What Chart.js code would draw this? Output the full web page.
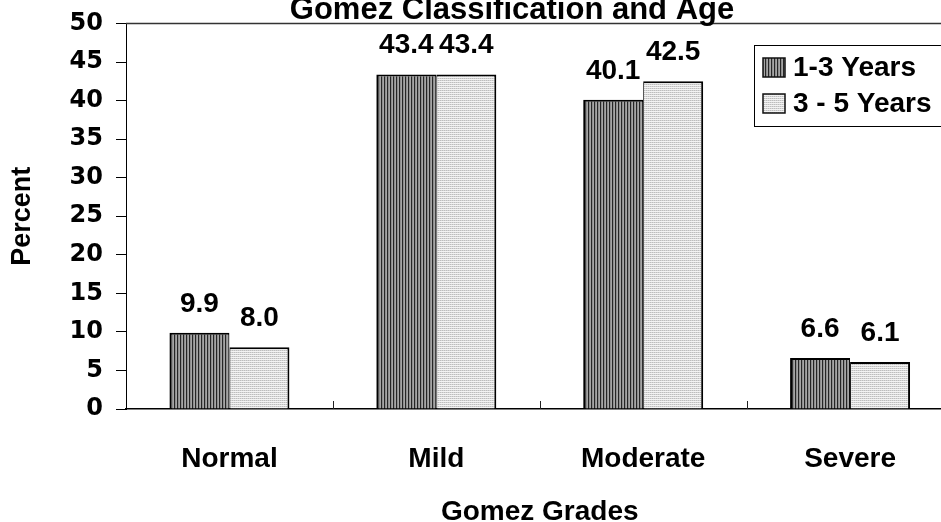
<!DOCTYPE html>
<html><head><meta charset="utf-8">
<script src="https://cdn.jsdelivr.net/npm/chart.js@4.4.0/dist/chart.umd.min.js"></script>
<style>
html,body{margin:0;padding:0;background:#fff;overflow:hidden;width:941px;height:522px;}
#wrap{position:relative;width:1000px;height:540px;}
</style></head><body>
<div id="wrap"><canvas id="c"></canvas></div>
<script>
const categories = ['Normal', 'Mild', 'Moderate', 'Severe'];
const seriesNames = ['1-3 Years', '3 - 5 Years'];
const values1to3 = [9.9, 43.4, 40.1, 6.6];
const values3to5 = [8.0, 43.4, 42.5, 6.1];
const yTickValues = [0, 5, 10, 15, 20, 25, 30, 35, 40, 45, 50];
const chartTitle = 'Gomez Classification and Age';
const xTitle = 'Gomez Grades';
const yTitle = 'Percent';

const FONT = "'Liberation Sans', Arial, sans-serif";
const canvas = document.getElementById('c');
const ctx0 = canvas.getContext('2d');

function tilePattern(w, h, fill) {
  const t = document.createElement('canvas');
  t.width = w; t.height = h;
  const g = t.getContext('2d');
  fill(g);
  return ctx0.createPattern(t, 'repeat');
}
const darkPattern = tilePattern(3, 1, g => {
  g.fillStyle = '#262626'; g.fillRect(0, 0, 1, 1);
  g.fillStyle = '#8e8e8e'; g.fillRect(1, 0, 1, 1);
  g.fillStyle = '#a6a6a6'; g.fillRect(2, 0, 1, 1);
});
const lightPattern = tilePattern(2, 2, g => {
  g.fillStyle = '#f3f3f3'; g.fillRect(0, 0, 2, 2);
  g.fillStyle = '#bdbdbd'; g.fillRect(0, 0, 1, 1);
  g.fillStyle = '#d6d6d6'; g.fillRect(1, 0, 1, 1);
});

const extras = {
  id: 'extras',
  afterDraw(chart) {
    const ctx = chart.ctx;
    const a = chart.chartArea;
    const xs = chart.scales.x;
    ctx.save();
    // top border of plot
    ctx.strokeStyle = '#333';
    ctx.lineWidth = 1.5;
    ctx.beginPath();
    ctx.moveTo(a.left, a.top); ctx.lineTo(a.right, a.top);
    ctx.stroke();
    // inward category ticks
    ctx.strokeStyle = '#222';
    ctx.lineWidth = 1;
    for (let i = 1; i < categories.length; i++) {
      const xb = Math.round((xs.getPixelForValue(i - 1) + xs.getPixelForValue(i)) / 2) + 0.5;
      ctx.beginPath();
      ctx.moveTo(xb, a.bottom - 8); ctx.lineTo(xb, a.bottom);
      ctx.stroke();
    }
    // value labels
    ctx.fillStyle = '#000';
    ctx.font = 'bold 28px ' + FONT;
    ctx.textAlign = 'center';
    ctx.textBaseline = 'alphabetic';
    chart.data.datasets.forEach((ds, di) => {
      chart.getDatasetMeta(di).data.forEach((el, i) => {
        ctx.fillText(ds.data[i].toFixed(1), el.x, el.y - 21);
      });
    });
    // title
    ctx.font = 'bold 31px ' + FONT;
    ctx.fillText(chartTitle, 512, 19);
    // legend
    ctx.strokeStyle = '#000';
    ctx.lineWidth = 1;
    ctx.fillStyle = '#fff';
    ctx.fillRect(754.5, 45.5, 400, 81);
    ctx.strokeRect(754.5, 45.5, 400, 81);
    chart.data.datasets.forEach((ds, di) => {
      const cy = 67.5 + di * 36;
      ctx.fillStyle = ds.backgroundColor;
      ctx.fillRect(763, cy - 9.5, 22, 19);
      ctx.lineWidth = 1.5;
      ctx.strokeStyle = '#111';
      ctx.strokeRect(763, cy - 9.5, 22, 19);
      ctx.fillStyle = '#000';
      ctx.font = 'bold 28px ' + FONT;
      ctx.textAlign = 'left';
      ctx.textBaseline = 'middle';
      ctx.fillText(ds.label, 793, cy + 1);
    });
    ctx.restore();
  }
};

new Chart(canvas, {
  type: 'bar',
  data: {
    labels: categories,
    datasets: [
      { label: seriesNames[0], data: values1to3, backgroundColor: darkPattern, borderColor: '#000',
        borderWidth: { left: 2, right: 1, top: 2, bottom: 0 }, borderSkipped: false,
        barPercentage: 1, categoryPercentage: 0.58 },
      { label: seriesNames[1], data: values3to5, backgroundColor: lightPattern, borderColor: '#000',
        borderWidth: { left: 1, right: 2, top: 2, bottom: 0 }, borderSkipped: false,
        barPercentage: 1, categoryPercentage: 0.58 }
    ]
  },
  options: {
    responsive: true,
    maintainAspectRatio: false,
    animation: false,
    events: [],
    layout: { padding: { left: 2, right: 46.5, top: 23.5, bottom: 0 } },
    plugins: { legend: { display: false }, title: { display: false }, tooltip: { enabled: false } },
    scales: {
      x: {
        afterFit: s => { s.height = 131; s.paddingLeft = 0; s.paddingRight = 0; },
        grid: { display: false, drawTicks: false },
        border: { display: true, color: '#000', width: 1.5 },
        ticks: { color: '#000', font: { family: FONT, weight: 'bold', size: 28 }, padding: 33 },
        title: { display: true, text: xTitle, color: '#000', font: { family: FONT, weight: 'bold', size: 28 },
                 padding: { top: 25, bottom: 11 } }
      },
      y: {
        min: 0, max: 50,
        afterBuildTicks: s => { s.ticks = yTickValues.map(v => ({ value: v })); },
        afterFit: s => { s.width = 124; s.paddingTop = 0; s.paddingBottom = 0; },
        grid: { display: true, drawOnChartArea: false, drawTicks: true, tickLength: 10, color: '#000' },
        border: { display: true, color: '#000', width: 1 },
        ticks: { color: '#000', font: { family: "'DejaVu Sans', sans-serif", weight: 'bold', size: 24 }, padding: 13 },
        title: { display: true, text: yTitle, color: '#000', font: { family: FONT, weight: 'bold', size: 27 },
                 padding: { top: 4, bottom: 0 } }
      }
    }
  },
  plugins: [extras]
});
</script>
</body></html>
